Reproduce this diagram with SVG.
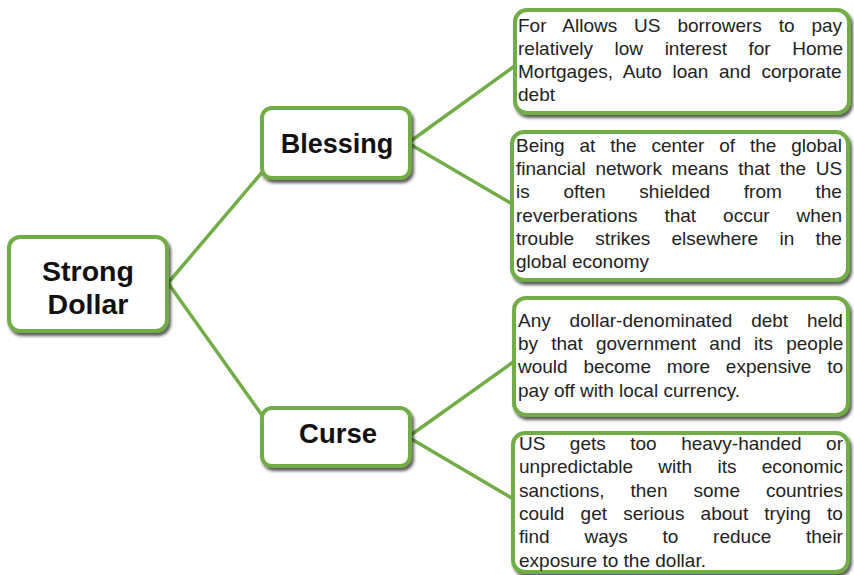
<svg xmlns="http://www.w3.org/2000/svg" width="854" height="575" viewBox="0 0 854 575">
<defs>
<filter id="sh" x="-10%" y="-10%" width="130%" height="140%">
<feDropShadow dx="2" dy="3" stdDeviation="1.8" flood-color="#222" flood-opacity="0.75"/>
</filter>
<style>
.box{fill:#fff;stroke:#70AD47;stroke-width:4;filter:url(#sh)}
.big{font-family:"Liberation Sans",Arial,sans-serif;font-weight:bold;fill:#111;text-anchor:middle}
.t{font-family:"Liberation Sans",Arial,sans-serif;font-size:19px;fill:#222}
.c{stroke:#70AD47;stroke-width:3.5;fill:none;stroke-linecap:round}
</style>
</defs>
<rect width="854" height="575" fill="#fff"/>
<g id="connectors">
<line class="c" x1="168" y1="283" x2="264" y2="170"/>
<line class="c" x1="168" y1="283" x2="264" y2="418"/>
<line class="c" x1="408" y1="143" x2="516" y2="65"/>
<line class="c" x1="408" y1="143" x2="514" y2="205"/>
<line class="c" x1="408" y1="437" x2="516" y2="360"/>
<line class="c" x1="408" y1="437" x2="515" y2="500"/>
</g>
<g id="strong-dollar">
<rect class="box" x="9" y="237" width="158" height="94" rx="11"/>
<text class="big" font-size="28.5" x="88" y="281">Strong</text>
<text class="big" font-size="28.5" x="88" y="314">Dollar</text>
</g>
<g id="blessing">
<rect class="box" x="262" y="108" width="148" height="70" rx="10"/>
<text class="big" font-size="27" x="337" y="153">Blessing</text>
</g>
<g id="curse">
<rect class="box" x="262" y="408" width="148" height="58" rx="10"/>
<text class="big" font-size="27.5" x="338" y="443">Curse</text>
</g>
<g id="box-1">
<rect class="box" x="515" y="10" width="334" height="103" rx="12"/>
<text class="t" x="518" y="32" word-spacing="11.6">For Allows US borrowers to pay</text>
<text class="t" x="518" y="55" word-spacing="16.3">relatively low interest for Home</text>
<text class="t" x="518" y="78" word-spacing="5.4">Mortgages, Auto loan and corporate</text>
<text class="t" x="518" y="101">debt</text>
</g>
<g id="box-2">
<rect class="box" x="512" y="132" width="336" height="148" rx="12"/>
<text class="t" x="516" y="152" word-spacing="9.6">Being at the center of the global</text>
<text class="t" x="516" y="175" word-spacing="4.4">financial network means that the US</text>
<text class="t" x="516" y="198" word-spacing="28.4">is often shielded from the</text>
<text class="t" x="516" y="222" word-spacing="21.7">reverberations that occur when</text>
<text class="t" x="516" y="245" word-spacing="16.0">trouble strikes elsewhere in the</text>
<text class="t" x="516" y="268">global economy</text>
</g>
<g id="box-3">
<rect class="box" x="514" y="298" width="334" height="117" rx="12"/>
<text class="t" x="518" y="327" word-spacing="13.6">Any dollar-denominated debt held</text>
<text class="t" x="518" y="350" word-spacing="7.8">by that government and its people</text>
<text class="t" x="518" y="373" word-spacing="10.5">would become more expensive to</text>
<text class="t" x="518" y="397">pay off with local currency.</text>
</g>
<g id="box-4">
<rect class="box" x="513" y="433" width="335" height="139" rx="12"/>
<text class="t" x="519" y="450" word-spacing="19.2">US gets too heavy-handed or</text>
<text class="t" x="519" y="473" word-spacing="20.0">unpredictable with its economic</text>
<text class="t" x="519" y="497" word-spacing="20.7">sanctions, then some countries</text>
<text class="t" x="519" y="520" word-spacing="10.9">could get serious about trying to</text>
<text class="t" x="519" y="543" word-spacing="29.5">find ways to reduce their</text>
<text class="t" x="519" y="567">exposure to the dollar.</text>
</g>
</svg>
